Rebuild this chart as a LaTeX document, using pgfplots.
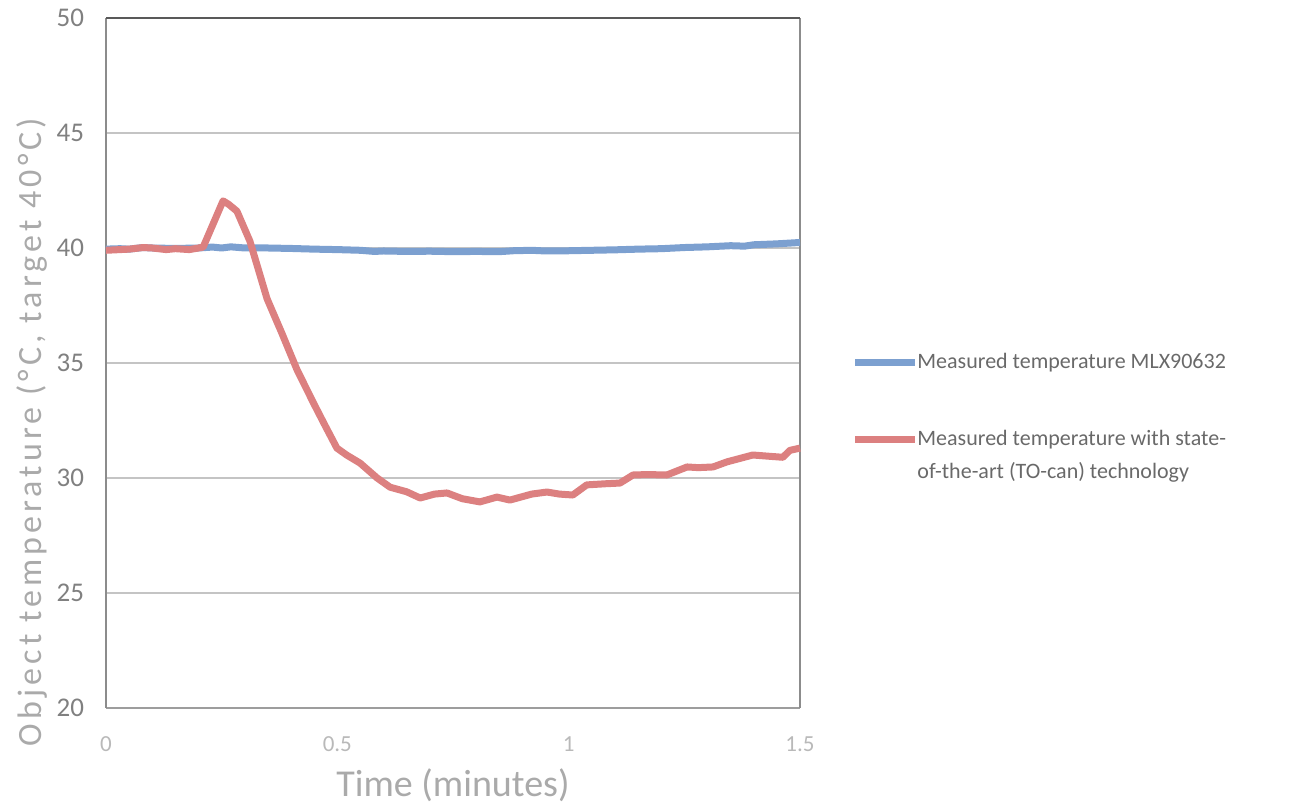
\documentclass[border=0pt]{standalone}
\usepackage{fontspec}
\setmainfont{Carlito}
\usepackage{pgfplots}
\pgfplotsset{compat=1.18}
\definecolor{bluel}{RGB}{124,160,208}
\definecolor{redl}{RGB}{220,128,128}
\definecolor{gridc}{RGB}{196,196,196}
\definecolor{ytc}{RGB}{128,128,128}
\definecolor{xtc}{RGB}{185,185,185}
\definecolor{labc}{RGB}{170,170,170}
\definecolor{legc}{RGB}{105,105,105}
\begin{document}
\begin{tikzpicture}
\useasboundingbox (0pt,0pt) rectangle (647pt,406pt);
\begin{axis}[
  at={(53pt,52pt)}, anchor=south west,
  scale only axis, width=347pt, height=345pt,
  xmin=0, xmax=1.5, ymin=20, ymax=50,
  xtick={0,0.5,1,1.5}, ytick={20,25,30,35,40,45,50},
  xticklabels={0,0.5,1,1.5},
  major tick length=0pt,
  ymajorgrids, grid style={gridc, line width=0.7pt},
  axis line style={draw=none},
  /pgf/number format/assume math mode=true,
  yticklabel style={font=\fontsize{13.5}{15}\selectfont, text=ytc, xshift=-7.5pt},
  xticklabel style={font=\fontsize{11.5}{13}\selectfont, text=xtc, yshift=-11pt},
  xlabel={Time (minutes)},
  ylabel={Object temperature (°C, target 40°C)},
  xlabel style={font=\fontsize{19}{21}\selectfont, text=labc, at={(axis description cs:0.5,-0.1116)}, anchor=center},
  ylabel style={font=\fontsize{17}{19}\selectfont\addfontfeature{LetterSpace=12}, text=labc, at={(axis description cs:-0.107,0.4)}, anchor=center},
  clip=false,
]
\draw[gridc!80!black, line width=0.7pt] (rel axis cs:0,0) -- (rel axis cs:1,0);
\draw[black!45, line width=0.8pt] (rel axis cs:0,0) -- (rel axis cs:0,1);
\draw[black!45, line width=0.8pt] (rel axis cs:1,0) -- (rel axis cs:1,1);
\draw[black!65, line width=0.8pt] (rel axis cs:0,1) -- (rel axis cs:1,1);
\addplot[bluel, line width=3.5pt, line join=round] coordinates {
(0,39.95) (0.03,39.97) (0.05,39.95) (0.08,40.02) (0.1,40.0) (0.15,39.98) (0.2,40.0) (0.23,40.04) (0.25,40.0) (0.27,40.05) (0.3,40.0) (0.35,40.0) (0.4,39.98) (0.45,39.95) (0.5,39.93) (0.55,39.9) (0.58,39.85) (0.6,39.87) (0.65,39.85) (0.7,39.86) (0.75,39.84) (0.8,39.85) (0.85,39.84) (0.88,39.88) (0.92,39.9) (0.95,39.87) (1.0,39.88) (1.05,39.9) (1.1,39.92) (1.15,39.95) (1.2,39.97) (1.25,40.02) (1.3,40.05) (1.35,40.1) (1.38,40.08) (1.4,40.14) (1.45,40.18) (1.5,40.24)
};
\addplot[redl, line width=3.5pt, line join=round] coordinates {
(0,39.9) (0.05,39.95) (0.08,40.02) (0.1,40.0) (0.13,39.93) (0.15,39.97) (0.18,39.93) (0.2,40.0) (0.21,40.04) (0.253,42.05) (0.265,41.9) (0.283,41.6) (0.311,40.3) (0.348,37.8) (0.38,36.3) (0.413,34.7) (0.45,33.2) (0.473,32.3) (0.499,31.3) (0.52,31.0) (0.549,30.65) (0.586,30.0) (0.614,29.6) (0.65,29.4) (0.679,29.13) (0.71,29.3) (0.737,29.35) (0.77,29.1) (0.808,28.96) (0.845,29.17) (0.873,29.04) (0.92,29.3) (0.953,29.39) (0.98,29.3) (1.009,29.26) (1.039,29.7) (1.08,29.75) (1.111,29.78) (1.139,30.13) (1.17,30.15) (1.212,30.13) (1.256,30.48) (1.28,30.45) (1.312,30.48) (1.342,30.7) (1.37,30.85) (1.398,31.0) (1.43,30.95) (1.463,30.9) (1.478,31.2) (1.5,31.3)
};
\end{axis}
\draw[bluel, line width=3.5pt] (427.5pt,224.5pt) -- (457.5pt,224.5pt);
\node[anchor=west, inner sep=0pt, text=legc, font=\fontsize{11}{13}\selectfont] at (458.5pt,224.5pt) {Measured temperature MLX90632};
\draw[redl, line width=3.5pt] (427.5pt,186pt) -- (457.5pt,186pt);
\node[anchor=north west, inner sep=0pt, text=legc, font=\fontsize{11}{16.5}\selectfont, align=left] at (458.5pt,191pt) {Measured temperature with state-\\of-the-art (TO-can) technology};
\end{tikzpicture}
\end{document}
